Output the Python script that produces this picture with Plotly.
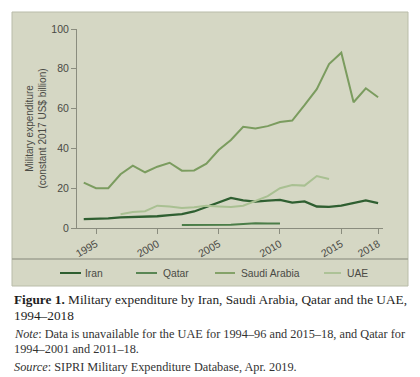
import plotly.graph_objects as go

years = list(range(1994, 2019))
iran = [4.5, 4.5, 4.8, 5.3, 5.5, 5.5, 5.9, 6.5, 7.0, 8.3, 10.7, 12.7, 15.1, 13.9, 13.3, 13.8, 14.1, 12.8, 13.4, 10.8, 10.6, 11.2, 12.5, 13.9, 12.5]
qatar_years = list(range(2002, 2011))
qatar = [1.5, 1.5, 1.5, 1.5, 1.6, 2.0, 2.4, 2.2, 2.2]
saudi = [22.8, 20.0, 20.0, 27.0, 31.3, 28.0, 30.8, 32.8, 28.8, 28.9, 32.3, 39.2, 44.2, 50.9, 50.0, 51.2, 53.3, 54.0, 61.7, 69.8, 82.4, 88.1, 63.2, 70.2, 65.7]
uae_years = list(range(1997, 2015))
uae = [6.9, 8.0, 8.4, 11.2, 10.8, 10.0, 10.4, 11.2, 10.8, 10.5, 11.2, 13.5, 16.0, 20.0, 21.6, 21.3, 26.1, 24.6]

xticks = [1995, 2000, 2005, 2010, 2015, 2018]
yticks = [0, 20, 40, 60, 80, 100]

C_IRAN = "#2f5f31"
C_QATAR = "#4b7d48"
C_SAUDI = "#7b9c5f"
C_UAE = "#a9c092"
BG = "#d5d7c4"
AX = "#8a8c7e"
TXT = "#4a4a44"

# page body has an 8px margin: work in screen pixels, shift into figure pixels
OFF = 8
W, H = 420 - OFF, 377 - OFF
L, R, T, B = 77, 383, 29, 228  # plot area in screen pixels


def px(x):
    return (x - L) / (R - L)


def py(y):
    return (B - y) / (B - T)


fig = go.Figure()
fig.add_trace(go.Scatter(x=years, y=iran, mode="lines", name="Iran", line=dict(color=C_IRAN, width=2.3)))
fig.add_trace(go.Scatter(x=qatar_years, y=qatar, mode="lines", name="Qatar", line=dict(color=C_QATAR, width=2)))
fig.add_trace(go.Scatter(x=years, y=saudi, mode="lines", name="Saudi Arabia", line=dict(color=C_SAUDI, width=2)))
fig.add_trace(go.Scatter(x=uae_years, y=uae, mode="lines", name="UAE", line=dict(color=C_UAE, width=2)))

shapes = [
    dict(type="rect", xref="paper", yref="paper", x0=px(12), x1=px(408), y0=py(12), y1=py(286),
         fillcolor=BG, line=dict(color="#b9bca9", width=1), layer="below"),
    dict(type="line", xref="paper", yref="paper", x0=px(12), x1=px(408), y0=py(259), y1=py(259),
         line=dict(color="#9fa293", width=1.5), layer="below"),
]

SANS = "Liberation Sans"
legend_items = [
    ("Iran", C_IRAN, 60, 81, 83, 2),
    ("Qatar", C_QATAR, 136, 157, 161, 1.8),
    ("Saudi Arabia", C_SAUDI, 215, 235, 239, 1.8),
    ("UAE", C_UAE, 324, 341, 345, 1.8),
]
annotations = []
for name, col, x0, x1, tx, lw in legend_items:
    shapes.append(dict(type="line", xref="paper", yref="paper", x0=px(x0), x1=px(x1), y0=py(273), y1=py(273),
                       line=dict(color=col, width=lw)))
    annotations.append(dict(text=name, xref="paper", yref="paper", x=px(tx), y=py(273), xanchor="left",
                            yanchor="middle", showarrow=False, font=dict(family=SANS, size=10.3, color=TXT)))

SERIF = "Liberation Serif"
annotations += [
    dict(text="<b>Figure 1.</b> Military expenditure by Iran, Saudi Arabia, Qatar and the UAE,", xref="paper", yref="paper",
         x=px(12), y=py(299), xanchor="left", yanchor="middle", showarrow=False, font=dict(family=SERIF, size=13.3, color="#1e1e1e")),
    dict(text="1994–2018", xref="paper", yref="paper",
         x=px(12), y=py(315), xanchor="left", yanchor="middle", showarrow=False, font=dict(family=SERIF, size=13.3, color="#1e1e1e")),
    dict(text="<i>Note</i>: Data is unavailable for the UAE for 1994–96 and 2015–18, and Qatar for", xref="paper", yref="paper",
         x=px(12), y=py(334), xanchor="left", yanchor="middle", showarrow=False, font=dict(family=SERIF, size=12.3, color="#333")),
    dict(text="1994–2001 and 2011–18.", xref="paper", yref="paper",
         x=px(12), y=py(349), xanchor="left", yanchor="middle", showarrow=False, font=dict(family=SERIF, size=12.3, color="#333")),
    dict(text="<i>Source</i>: SIPRI Military Expenditure Database, Apr. 2019.", xref="paper", yref="paper",
         x=px(12), y=py(367), xanchor="left", yanchor="middle", showarrow=False, font=dict(family=SERIF, size=12.3, color="#333")),
]

fig.update_layout(
    width=W, height=H,
    margin=dict(l=L - OFF, r=420 - R, t=T - OFF, b=377 - B, pad=0),
    paper_bgcolor="white", plot_bgcolor=BG,
    showlegend=False,
    shapes=shapes, annotations=annotations,
    xaxis=dict(range=[1993.45, 2018.4], tickvals=xticks, ticktext=[str(v) for v in xticks], tickangle=-30,
               showgrid=False, zeroline=False, showline=True, linecolor=AX, linewidth=1,
               ticks="outside", ticklen=5, tickcolor=AX, tickfont=dict(family=SANS, size=10.5, color=TXT)),
    yaxis=dict(range=[0, 100], tickvals=yticks, showgrid=False, zeroline=False, showline=True, linecolor=AX, linewidth=1,
               ticks="outside", ticklen=5, tickcolor=AX, tickfont=dict(family=SANS, size=10.5, color=TXT),
               automargin=False,
               title=dict(text="Military expenditure<br>(constant 2017 US$ billion)", standoff=2,
                          font=dict(family=SANS, size=10, color=TXT))),
)

fig.write_html("out.html")
